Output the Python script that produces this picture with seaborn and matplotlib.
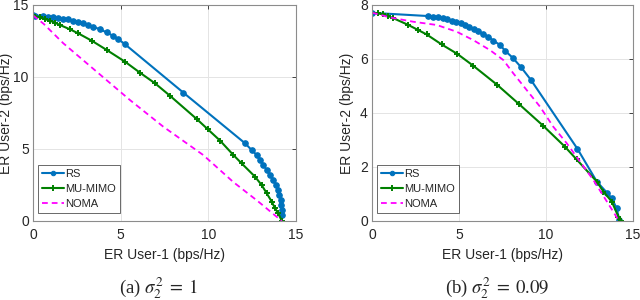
import matplotlib
matplotlib.use('Agg')
import matplotlib.pyplot as plt
import seaborn as sns
import pandas as pd

# (a) sigma^2 = 1
rs_x_a = [0, 0.11, 0.59, 0.87, 1.16, 1.44, 1.73, 2.01, 2.3, 2.58, 2.87, 3.15, 3.44, 3.82, 4.2,
          4.58, 4.87, 5.25, 8.58, 12.09, 12.47, 12.76, 12.95, 13.14, 13.33, 13.52, 13.71, 13.86,
          13.99, 14.05, 14.13, 14.16, 14.19, 14.2]
rs_y_a = [14.28, 14.26, 14.24, 14.19, 14.15, 14.1, 14.05, 14.01, 13.91, 13.82, 13.73, 13.61, 13.49,
          13.31, 13.1, 12.85, 12.62, 12.27, 8.91, 5.4, 4.93, 4.58, 4.24, 3.89, 3.54, 3.19, 2.85, 2.5,
          2.15, 1.8, 1.46, 1.11, 0.76, 0.4]
mu_x_a = [0, 0.4, 0.68, 0.97, 1.25, 1.54, 2.11, 2.58, 3.35, 4.2, 5.25, 6.1, 6.96, 7.81, 9.34, 9.97,
          10.67, 11.43, 11.9, 12.66, 13.04, 13.33, 13.62, 13.8, 13.99, 14.19]
mu_y_a = [14.28, 14.14, 14.03, 13.91, 13.77, 13.61, 13.31, 13.03, 12.52, 11.88, 11.06, 10.3, 9.56,
          8.7, 7.08, 6.37, 5.58, 4.58, 4.0, 3.08, 2.5, 1.92, 1.34, 0.88, 0.53, 0.0]
noma_x_a = [0, 0.21, 0.6, 1.73, 3.63, 5.53, 7.43, 9.71, 11.43, 12.8, 14.19]
noma_y_a = [14.28, 14.08, 13.7, 12.34, 10.37, 8.4, 6.55, 4.58, 2.7, 1.4, 0.0]

# (b) sigma^2 = 0.09
rs_x_b = [0, 3.24, 3.52, 3.81, 4.06, 4.33, 4.58, 4.83, 5.1, 5.34, 5.59, 5.86, 6.1, 6.39, 6.68,
          6.97, 7.36, 7.64, 8.08, 8.55, 9.14, 11.8, 12.92, 13.5, 13.78, 14.06, 14.21]
rs_y_b = [7.71, 7.59, 7.57, 7.54, 7.51, 7.47, 7.42, 7.38, 7.32, 7.26, 7.2, 7.11, 7.04, 6.93, 6.83,
          6.68, 6.52, 6.31, 6.05, 5.71, 5.22, 2.68, 1.46, 1.05, 0.84, 0.47, 0.04]
mu_x_b = [0, 0.36, 0.65, 0.94, 1.23, 2.09, 2.66, 3.14, 4.0, 4.9, 5.82, 7.2, 8.45, 9.85, 11.09,
          11.76, 12.92, 13.3, 13.78, 14.16, 14.3]
mu_y_b = [7.71, 7.69, 7.65, 7.59, 7.51, 7.26, 7.07, 6.91, 6.54, 6.19, 5.75, 5.04, 4.33, 3.52, 2.75,
          2.28, 1.46, 1.09, 0.72, 0.16, 0.0]
noma_x_b = [0, 0.17, 1.03, 2.37, 3.72, 4.87, 5.82, 6.78, 7.55, 8.12, 8.89, 9.66, 10.42, 11.19,
            12.72, 14.2]
noma_y_b = [7.71, 7.69, 7.54, 7.38, 7.26, 7.01, 6.7, 6.33, 5.96, 5.47, 4.85, 4.23, 3.49, 2.88,
            1.52, 0.0]

sns.set_style("white")
plt.rcParams['font.family'] = ['Liberation Sans', 'DejaVu Sans']
plt.rcParams['mathtext.fontset'] = 'stix'

blue = "#0072BD"
green = "#008000"
magenta = "#FF00FF"

fig = plt.figure(figsize=(6.4, 3.0), dpi=100)
ax_a = fig.add_axes([33 / 640, 79 / 300, 263 / 640, 216 / 300])
ax_b = fig.add_axes([372 / 640, 79 / 300, 261 / 640, 216 / 300])


def draw(ax, rs, mu, noma, ymax, yticks, ylab_x, w):
    sns.lineplot(data=pd.DataFrame({"x": rs[0], "y": rs[1]}), x="x", y="y", sort=False,
                 estimator=None, ax=ax, color=blue, lw=1.5, marker="o", ms=4,
                 mec=blue, label="RS")
    sns.lineplot(data=pd.DataFrame({"x": mu[0], "y": mu[1]}), x="x", y="y", sort=False,
                 estimator=None, ax=ax, color=green, lw=1.5, marker="+", ms=5,
                 mew=1.4, mec=green, label="MU-MIMO")
    sns.lineplot(data=pd.DataFrame({"x": noma[0], "y": noma[1]}), x="x", y="y", sort=False,
                 estimator=None, ax=ax, color=magenta, lw=1.3, ls=(0, (3.2, 2.2)), label="NOMA")
    ax.set_xlim(0, 15)
    ax.set_ylim(0, ymax)
    ax.set_xticks([0, 5, 10, 15])
    ax.set_yticks(yticks)
    ax.grid(True, color="#e4e4e4", lw=0.7)
    ax.tick_params(direction="in", length=3, width=0.6, colors="#262626", labelsize=10,
                   top=True, right=True)
    ax.tick_params(axis="y", pad=3)
    ax.tick_params(axis="x", pad=5)
    for s in ax.spines.values():
        s.set_color("#8c8c8c")
        s.set_linewidth(0.8)
    ax.set_xlabel("ER User-1 (bps/Hz)", fontsize=10, color="#262626", labelpad=4)
    ax.set_ylabel("ER User-2 (bps/Hz)", fontsize=10, color="#262626")
    ax.yaxis.set_label_coords(ylab_x, 0.5)
    leg = ax.legend(loc="lower left", bbox_to_anchor=(5 / w, 8 / 216), borderaxespad=0,
                    fontsize=8, handlelength=2.0, handletextpad=0.1, borderpad=0.35,
                    labelspacing=0.45, fancybox=False, markerscale=0.8)
    leg.get_frame().set_edgecolor("#262626")
    leg.get_frame().set_linewidth(0.6)


draw(ax_a, (rs_x_a, rs_y_a), (mu_x_a, mu_y_a), (noma_x_a, noma_y_a), 15, [0, 5, 10, 15],
     (13 - 33) / 263, 263)
draw(ax_b, (rs_x_b, rs_y_b), (mu_x_b, mu_y_b), (noma_x_b, noma_y_b), 8, [0, 2, 4, 6, 8],
     (354 - 372) / 261, 261)

fig.text(158 / 640, 1 - 288 / 300, r"(a) $\sigma_2^2\;=\;1$", ha="center", va="center",
         fontsize=13.5, family="Liberation Serif")
fig.text(497 / 640, 1 - 288 / 300, r"(b) $\sigma_2^2\;=\;0.09$", ha="center", va="center",
         fontsize=13.5, family="Liberation Serif")

fig.savefig("out.png", dpi=100)
